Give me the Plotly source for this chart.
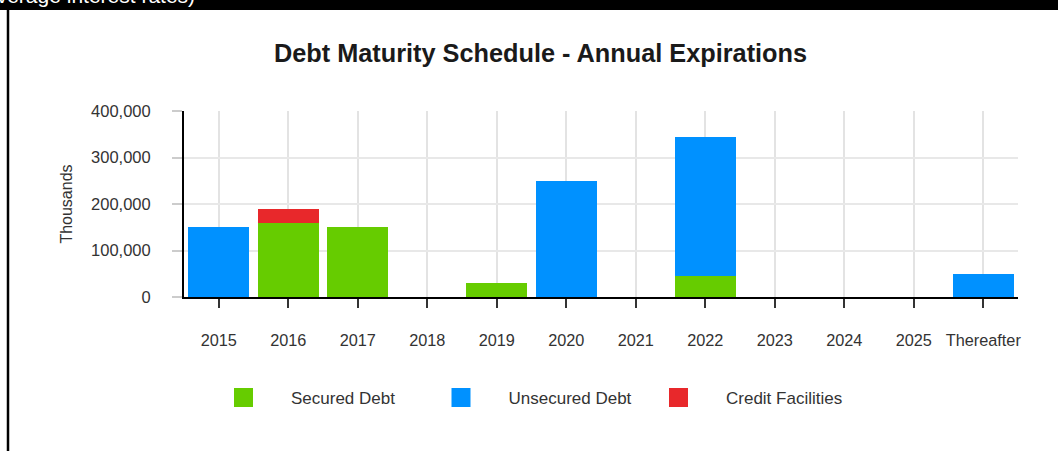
import plotly.graph_objects as go

categories = ["2015", "2016", "2017", "2018", "2019", "2020", "2021", "2022",
              "2023", "2024", "2025", "Thereafter"]
secured_debt = [0, 160000, 150000, 0, 30000, 0, 0, 45000, 0, 0, 0, 0]
unsecured_debt = [150000, 0, 0, 0, 0, 250000, 0, 300000, 0, 0, 0, 50000]
credit_facilities = [0, 30000, 0, 0, 0, 0, 0, 0, 0, 0, 0, 0]
y_ticks = [0, 100000, 200000, 300000, 400000]

series = [
    ("Secured Debt", secured_debt, "#66cc00"),
    ("Unsecured Debt", unsecured_debt, "#0091ff"),
    ("Credit Facilities", credit_facilities, "#e8282b"),
]

W, H = 1058, 451
ML, MR, MT, MB = 184, 40, 111, 154
PW, PH = W - ML - MR, H - MT - MB


def px_x(p):
    return (p - ML) / PW


def px_y(p):
    return (H - MB - p) / PH


fig = go.Figure()
for name, vals, col in series:
    fig.add_trace(go.Bar(
        x=categories, y=vals, name=name, marker=dict(color=col, line=dict(width=0)),
        showlegend=False, legendgroup=name,
    ))
for name, vals, col in series:
    fig.add_trace(go.Scatter(
        x=[None], y=[None], mode="markers", name=name, legendgroup=name,
        marker=dict(symbol="square", size=16, color=col, line=dict(color=col, width=3)),
    ))

fig.update_layout(
    width=W, height=H,
    margin=dict(l=ML, r=MR, t=MT, b=MB, pad=0),
    paper_bgcolor="white", plot_bgcolor="white",
    barmode="stack", bargap=0.12,
    font=dict(family="Arial, Liberation Sans, sans-serif", color="#333333"),
    title=dict(
        text="<b>Debt Maturity Schedule - Annual Expirations</b>",
        x=540.5 / W, xref="container", xanchor="center",
        y=1 - 53 / H, yref="container", yanchor="middle",
        font=dict(size=25.3, color="#1a1a1a"),
    ),
    xaxis=dict(
        type="category", range=[-0.5, 11.5],
        showline=True, linecolor="black", linewidth=2,
        showgrid=True, gridcolor="#e3e3e3", gridwidth=1.5,
        ticks="outside", ticklen=9, tickwidth=2, tickcolor="#333333",
        tickfont=dict(size=16.3, color="#333333"),
        ticklabelstandoff=18,
        zeroline=False,
    ),
    yaxis=dict(
        range=[0, 400000], tickvals=y_ticks, tickformat=",d",
        showline=True, linecolor="black", linewidth=2,
        showgrid=True, gridcolor="#e8e8e8", gridwidth=1.5,
        ticks="outside", ticklen=10, tickwidth=1.5, tickcolor="#cccccc",
        tickfont=dict(size=16.5, color="#333333"),
        ticklabelstandoff=18,
        zeroline=False,
        title=dict(text="Thousands", font=dict(size=16, color="#333333"), standoff=14),
    ),
    legend=dict(
        orientation="h", x=px_x(196), xanchor="left", y=px_y(398), yanchor="middle",
        itemwidth=85, entrywidth=117.5, entrywidthmode="pixels",
        font=dict(size=17, color="#333333"), itemsizing="trace",
        bgcolor="rgba(0,0,0,0)", traceorder="normal", itemclick=False, itemdoubleclick=False,
    ),
    shapes=[
        dict(type="rect", xref="paper", yref="paper",
             x0=px_x(-5), x1=px_x(W + 5), y0=px_y(10), y1=px_y(-5),
             fillcolor="black", line=dict(width=0), layer="above"),
        dict(type="line", xref="paper", yref="paper",
             x0=px_x(8), x1=px_x(8), y0=px_y(10), y1=px_y(H + 5),
             line=dict(color="black", width=2.5), layer="above"),
    ],
    annotations=[
        dict(text="(average interest rates)", xref="paper", yref="paper",
             x=px_x(197), y=px_y(9), xanchor="right", yanchor="bottom",
             showarrow=False, font=dict(size=21, color="white")),
    ],
)

fig.write_html("out.html")
